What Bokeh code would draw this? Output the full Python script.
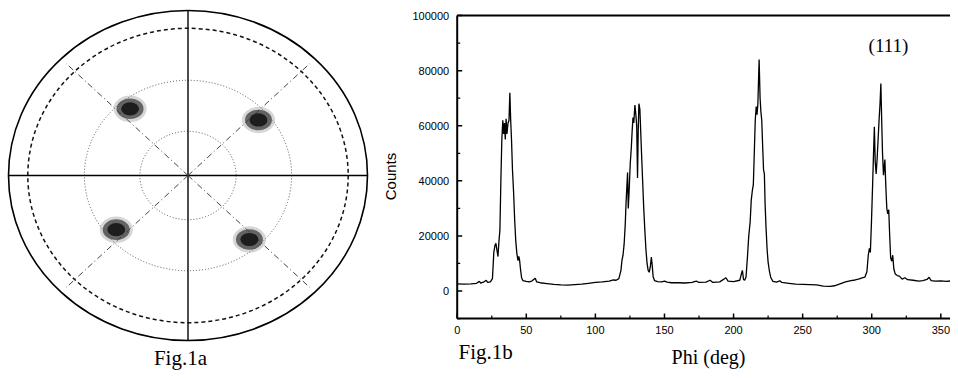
import numpy as np
from bokeh.plotting import figure
from bokeh.layouts import row
from bokeh.models import Range1d, Label
from bokeh.core.properties import value
from bokeh.embed import file_html
from bokeh.resources import INLINE

# ---------------- Fig.1a : (111) pole figure ----------------
ring_chi = [30, 60]            # dotted grid rings (deg)
limit_chi = 83.5               # dashed measurement limit (deg)
cross_phi = [0, 90, 180, 270]  # solid reference axes
diag_phi = [45, 135, 225, 315] # dash-dot reference lines
diag_r = 0.96
spot_phi = [40.6, 128.6, 219.4, 311.4]  # pole positions (deg)
spot_chi = [54.7, 54.7, 54.7, 54.7]

# ---------------- Fig.1b : phi scan ----------------
phi = [0, 5, 10, 14, 16, 17, 19, 21, 22, 24, 25.5, 26.5, 27.3, 28, 28.7, 29.5, 30.2, 30.9,
       31.6, 32.3, 33, 33.6, 34.2, 34.8, 35.4, 36, 36.8, 37.5, 38.1, 38.7, 39.3, 40, 40.8,
       41.6, 42.4, 43.2, 44, 44.6, 45.2, 45.8, 46.6, 47.5, 50, 52, 54, 56.5, 57.5, 60, 65,
       70, 75, 80, 85, 90, 95, 100, 105, 110, 113, 115, 117, 118.5, 119.2, 120, 120.8,
       121.6, 122.2, 122.8, 123.3, 123.8, 124.4, 125.2, 126, 126.6, 127.2, 127.8, 128.6,
       129.3, 129.9, 130.5, 131, 131.5, 132.2, 132.8, 133.4, 134.2, 135, 135.8, 136.6,
       137.4, 138.2, 139, 139.8, 140.5, 141.1, 141.8, 142.8, 145, 148, 150, 152, 155, 160,
       165, 170, 173, 175, 180, 183, 185, 190, 194.5, 196, 200, 204.5, 205.8, 206.4, 207.2,
       208, 209, 210, 211, 212, 212.8, 213.6, 214.3, 215, 215.7, 216.4, 217, 217.6, 218.5,
       219.2, 219.8, 220.4, 221.1, 221.7, 222.3, 222.8, 223.5, 224.3, 225, 226, 227, 228.5,
       231, 233.5, 235, 240, 245, 250, 255, 260, 265, 270, 273, 277, 281, 285, 288, 291,
       293, 295, 296.5, 297.5, 298.3, 299, 299.8, 300.6, 301.3, 301.9, 302.5, 303.2, 303.9,
       304.6, 305.3, 306, 306.6, 307.2, 307.8, 308.5, 309.5, 310.2, 310.9, 311.6, 312.3,
       313, 313.7, 314.5, 315.2, 316, 317, 318.5, 320, 322, 324, 326, 330, 334, 337, 340,
       341.5, 343, 346, 350, 354, 358]
counts = [2600, 2500, 2600, 2800, 3500, 2900, 3200, 3900, 3100, 3300, 4500, 14000, 16500,
          17300, 15000, 12500, 18000, 22000, 40000, 55000, 62000, 57000, 61000, 55000, 62500,
          57000, 61000, 62000, 72000, 62000, 55000, 44000, 36000, 25700, 18000, 13500, 11000,
          12600, 11000, 8000, 4800, 3800, 3500, 3300, 3600, 4600, 3300, 3000, 2700, 2400,
          2200, 2100, 2300, 2500, 2800, 3100, 3300, 3600, 4000, 3900, 4500, 7500, 11000,
          13000, 17000, 24000, 32000, 38000, 43000, 30000, 36000, 46000, 52000, 58000, 63000,
          61000, 67500, 64000, 60000, 41000, 58000, 68000, 66000, 58000, 50000, 40000, 30000,
          22000, 15000, 10000, 7500, 6800, 9000, 12300, 9500, 5200, 3800, 3400, 3300, 3600,
          3200, 3000, 3000, 2900, 3100, 3600, 3100, 3200, 3900, 3100, 3300, 4800, 3600, 3400,
          3900, 6500, 7500, 4200, 3900, 5000, 12000, 20000, 25000, 33000, 36500, 38500, 50000,
          62000, 67000, 64000, 68000, 84000, 70000, 65000, 62000, 52000, 44000, 42500, 32000,
          23000, 15000, 10500, 7000, 4800, 3500, 3200, 3700, 3100, 2800, 2500, 2400, 2300,
          2200, 1800, 1700, 1900, 2600, 3300, 3800, 4000, 4400, 4800, 5000, 7000, 13000,
          15500, 14000, 25000, 38000, 50000, 59600, 47000, 42500, 48000, 55000, 62000, 68000,
          75300, 62000, 50000, 42000, 47700, 38000, 30000, 28000, 29500, 20000, 12000, 10800,
          13000, 8000, 6200, 5600, 5400, 4300, 4800, 4100, 3900, 3600, 3800, 4200, 5000, 3800,
          3600, 3700, 3500, 3700]
x_ticks = [0, 50, 100, 150, 200, 250, 300, 350]
x_tick_labels = ["0", "50", "100", "150", "200", "250", "300", "350"]
x_minor = [25, 75, 125, 175, 225, 275, 325]
y_ticks = [0, 20000, 40000, 60000, 80000, 100000]
y_tick_labels = ["0", "20000", "40000", "60000", "80000", "100000"]
y_minor = [-10000, 10000, 30000, 50000, 70000, 90000]
x_min, x_max = 0, 357
y_min, y_max = -10000, 100000

SERIF = "Liberation Serif"
SANS = "Liberation Sans"


def stereo_r(chi_deg):
    return np.tan(np.radians(np.asarray(chi_deg, dtype=float)) / 2.0)


def bare(fig):
    fig.outline_line_color = None
    fig.min_border = 0
    fig.min_border_left = 0
    fig.min_border_right = 0
    fig.min_border_top = 0
    fig.min_border_bottom = 0
    fig.xgrid.grid_line_color = None
    fig.ygrid.grid_line_color = None
    fig.xgrid.visible = False
    fig.ygrid.visible = False


# ---------- left figure : pole figure ----------
pf = figure(width=372, height=370, output_backend="svg", toolbar_location=None,
            x_range=Range1d(-1.0446, 1.0279), y_range=Range1d(-1.1818, 1.0606),
            x_axis_location=None, y_axis_location=None)
bare(pf)

pf.ellipse(x=[0], y=[0], width=[2.0], height=[2.0], fill_color=None,
           line_color="black", line_width=1.6)
rl = float(stereo_r(limit_chi))
pf.ellipse(x=[0], y=[0], width=[2 * rl], height=[2 * rl], fill_color=None,
           line_color="#111111", line_width=1.5, line_dash="4 3")
rr = stereo_r(ring_chi)
pf.ellipse(x=[0] * len(rr), y=[0] * len(rr), width=list(2 * rr), height=list(2 * rr),
           fill_color=None, line_color="#555555", line_width=1.0, line_dash="1 2")
ca = np.radians(cross_phi)
pf.segment(x0=[0] * 4, y0=[0] * 4, x1=list(np.cos(ca)), y1=list(np.sin(ca)),
           line_color="black", line_width=1.4)
da = np.radians(diag_phi)
pf.segment(x0=[0] * 4, y0=[0] * 4, x1=list(diag_r * np.cos(da)), y1=list(diag_r * np.sin(da)),
           line_color="#444444", line_width=1.0, line_dash="6 3 1 3")
sr = stereo_r(spot_chi)
sa = np.radians(spot_phi)
sx = list(sr * np.cos(sa))
sy = list(sr * np.sin(sa))
pf.ellipse(x=sx, y=sy, width=0.185, height=0.16, fill_color="#8a8a8a", fill_alpha=0.35,
           line_color=None)
pf.ellipse(x=sx, y=sy, width=0.15, height=0.125, fill_color="#333333", fill_alpha=0.7,
           line_color=None)
pf.ellipse(x=sx, y=sy, width=0.1, height=0.08, fill_color="#111111", fill_alpha=0.85,
           line_color=None)

pf.add_layout(Label(x=-0.042, y=-1.105, text="Fig.1a", text_align="center",
                    text_baseline="middle", text_font=SERIF, text_font_size="21px",
                    text_color="black"))

# ---------- right figure : phi scan (axes drawn through the data scales) ----------
XS, XE = -61.3, 357.0
YS, YE = -28862, 105464
W2, H2 = 578, 370
p = figure(width=W2, height=H2, output_backend="svg", toolbar_location=None,
           x_range=Range1d(XS, XE), y_range=Range1d(YS, YE),
           x_axis_location=None, y_axis_location=None)
bare(p)

px_per_deg = W2 / (XE - XS)
px_per_count = H2 / (YE - YS)
tick_major_x = 5 / px_per_deg
tick_minor_x = 3 / px_per_deg
tick_major_y = 5 / px_per_count
tick_minor_y = 3 / px_per_count

# frame lines: left axis, bottom axis, top border
p.segment(x0=[x_min, x_min, x_min], y0=[y_min, y_min, y_max],
          x1=[x_min, x_max, x_max], y1=[y_max, y_min, y_max],
          line_color="black", line_width=2)

# bottom ticks (pointing in)
p.segment(x0=x_ticks, y0=[y_min] * len(x_ticks), x1=x_ticks,
          y1=[y_min + tick_major_y] * len(x_ticks), line_color="black", line_width=1.5)
p.segment(x0=x_minor, y0=[y_min] * len(x_minor), x1=x_minor,
          y1=[y_min + tick_minor_y] * len(x_minor), line_color="black", line_width=1.2)
# left ticks (pointing in)
p.segment(x0=[x_min] * len(y_ticks), y0=y_ticks, x1=[x_min + tick_major_x] * len(y_ticks),
          y1=y_ticks, line_color="black", line_width=1.5)
p.segment(x0=[x_min] * len(y_minor), y0=y_minor, x1=[x_min + tick_minor_x] * len(y_minor),
          y1=y_minor, line_color="black", line_width=1.2)

# tick labels
p.text(x=x_ticks, y=[y_min] * len(x_ticks), text=x_tick_labels, text_align="center",
       text_baseline="top", y_offset=7, text_font=value(SANS), text_font_size="11px",
       text_color="black")
p.text(x=[x_min] * len(y_ticks), y=y_ticks, text=y_tick_labels, text_align="right",
       text_baseline="middle", x_offset=-8, text_font=value(SANS), text_font_size="11px",
       text_color="black")

# data
p.line(phi, counts, line_color="black", line_width=1.3)

p.add_layout(Label(x=-48.3, y=41570, text="Counts", angle=np.pi / 2, text_align="center",
                   text_baseline="middle", text_font=SANS, text_font_size="15px",
                   text_color="black"))
p.add_layout(Label(x=181.9, y=-23800, text="Phi (deg)", text_align="center",
                   text_baseline="middle", text_font=SERIF, text_font_size="20px",
                   text_color="black"))
p.add_layout(Label(x=0.94, y=-22000, text="Fig.1b", text_align="left",
                   text_baseline="middle", text_font=SERIF, text_font_size="21px",
                   text_color="black"))
p.add_layout(Label(x=312.1, y=89130, text="(111)", text_align="center",
                   text_baseline="middle", text_font=SERIF, text_font_size="19px",
                   text_color="black"))

layout = row(pf, p, spacing=0)
open("out.html", "w").write(file_html(layout, INLINE))
